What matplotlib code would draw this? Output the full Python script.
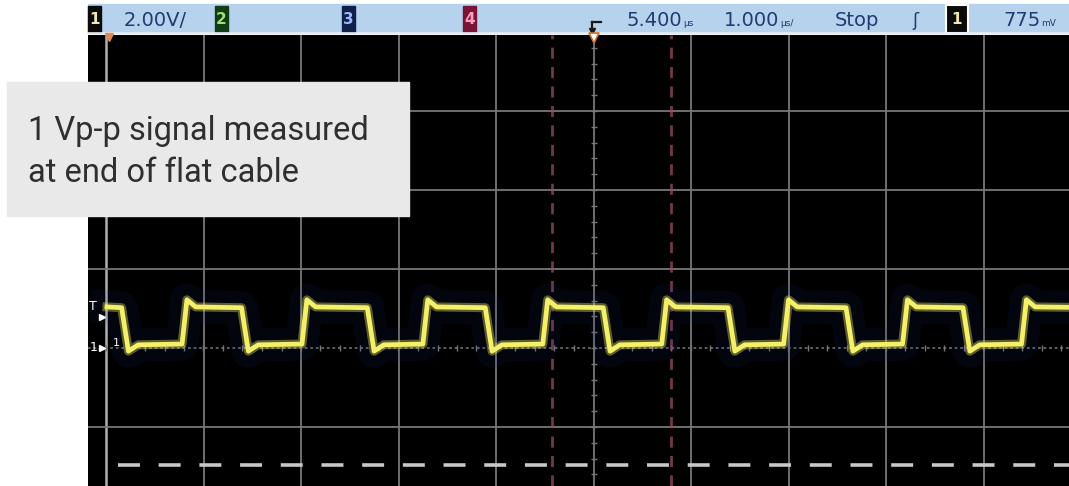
import numpy as np
import matplotlib.pyplot as plt
from matplotlib.patches import Rectangle

plt.rcParams['lines.scale_dashes'] = False

W, H = 1069, 486

# waveform (time in us, voltage in V)
rise_times = [1.18, 2.41, 3.65, 4.88, 6.10, 7.35, 8.57, 9.79]
fall_times = [0.56, 1.79, 3.08, 4.29, 5.50, 6.78, 7.99, 9.19]
high_level = 1.03
low_level = 0.09
overshoot_level = 1.22
undershoot_level = -0.08
trace_start = 0.41

cursor_times = [4.97, 6.19]
ref_level = -2.96
ref_start = 0.52
trigger_level = 0.775

time_center = 5.4
time_per_div = 1.0
volts_per_div = 2.0

# status bar texts
status_texts = ['2.00V/', '5.400', '1.000', 'Stop', '775']
status_units = ['', 'µs', 'µs/', '', 'mV']
status_x = [124, 627, 724, 835, 1003]

annotation = ['1 Vp-p signal measured', 'at end of flat cable']

# screen geometry: 97.5 px per time division, 79 px per vertical division
px_div_x = 97.5
px_div_y = 79.0
t_left = time_center - 5 * time_per_div
xlim = (t_left - 18 / px_div_x * time_per_div, t_left + (W - 106) / px_div_x * time_per_div)
ylim = (-(H - 348) / px_div_y * volts_per_div, (348 - 35) / px_div_y * volts_per_div)

fig = plt.figure(figsize=(W / 100, H / 100), dpi=100)
fig.patch.set_facecolor('white')

ax = fig.add_axes([88 / W, 0, (W - 88) / W, (H - 35) / H])
ax.set_facecolor('black')
ax.set_xlim(*xlim)
ax.set_ylim(*ylim)
for s in ax.spines.values():
    s.set_visible(False)
ax.set_xticks([])
ax.set_yticks([])

grid_c = '#777777'
for k in range(11):
    t = t_left + k * time_per_div
    ax.axvline(t, color='#b0b0b0' if k == 0 else grid_c, lw=1.3 if k else 1.8, zorder=1)
for v in [-2, 2, 4, 6]:
    ax.axhline(v * volts_per_div / 2, color=grid_c, lw=1.3, zorder=1)
ax.axhline(0, color='#666666', lw=1.3, ls=(0, (2, 2)), zorder=1)

# minor ticks on centre lines
mt = np.arange(t_left, xlim[1], time_per_div / 5)
ax.plot(mt, np.zeros_like(mt), ls='none', marker='|', ms=4, color='#777777', zorder=1)
mv = np.arange(-2 * volts_per_div, ylim[1], volts_per_div / 5)
ax.plot(np.full_like(mv, time_center), mv, ls='none', marker='_', ms=4, color='#777777', zorder=1)

# cursors
for ct in cursor_times:
    ax.axvline(ct, color='#9a4a62', lw=2, ls=(0, (8, 6)), alpha=0.75, zorder=2)

# reference dashed line
ax.plot([ref_start, xlim[1]], [ref_level, ref_level], color='#c8c8c8', lw=2.6,
        ls=(0, (15.8, 13.5)), zorder=2)

# trace
events = sorted([(t, 1) for t in rise_times] + [(t, 0) for t in fall_times])
ts, vs = [trace_start], [high_level + 0.01]
for t, up in events:
    if up:
        ts += [t, t + 0.05, t + 0.14]
        vs += [low_level + 0.01, overshoot_level, high_level + 0.01]
    else:
        ts += [t, t + 0.07, t + 0.17]
        vs += [high_level - 0.01, undershoot_level, low_level - 0.01]
ts.append(xlim[1])
vs.append(high_level)

ax.plot(ts, vs, color='#1c2a90', lw=24, alpha=0.10, solid_joinstyle='round', zorder=3)
ax.plot(ts, vs, color='#e8e45a', lw=6.5, alpha=0.40, solid_joinstyle='round', zorder=4)
ax.plot(ts, vs, color='#f4f06a', lw=3.4, solid_joinstyle='round', zorder=5)

# left markers
ax.text(0.27, 1.05, 'T', color='white', fontsize=9, ha='center', va='center', zorder=6)
ax.plot([0.355], [trigger_level], marker='>', ms=4, color='white', zorder=6)
ax.text(0.27, 0.02, '1', color='white', fontsize=9, ha='center', va='center', zorder=6)
ax.plot([0.355], [0], marker='>', ms=4, color='white', zorder=6)
ax.text(0.51, 0.12, '1', color='white', fontsize=8, ha='center', va='center', zorder=6)

# overlay in pixel coordinates
ov = fig.add_axes([0, 0, 1, 1], zorder=10)
ov.set_xlim(0, W)
ov.set_ylim(H, 0)
ov.axis('off')
ov.patch.set_alpha(0)

ov.add_patch(Rectangle((88, 4), W - 88, 29, color='#b6d2ec'))
ov.plot([88, W], [33.5, 33.5], color='#e8eef4', lw=1.2)

boxes = [(88, '#0a0a0a', '#f0e8b0', '1'), (215, '#123d12', '#9ee07a', '2'),
         (342, '#10204a', '#9cb8ff', '3'), (463, '#7a1434', '#ff9cc0', '4')]
for bx, fc, tc, lab in boxes:
    ov.add_patch(Rectangle((bx, 6), 13, 26, color=fc))
    ov.text(bx + 6.5, 19, lab, color=tc, fontsize=11, fontweight='bold', ha='center', va='center')
ov.add_patch(Rectangle((946, 5), 22, 28, facecolor='#0a0a0a', edgecolor='white', lw=1.5))
ov.text(957, 19, '1', color='#f0e8b0', fontsize=11, fontweight='bold', ha='center', va='center')

txt_c = '#233a72'
renderer = fig.canvas.get_renderer()
inv = ov.transData.inverted()
for x, s, u in zip(status_x, status_texts, status_units):
    t = ov.text(x, 26, s, color=txt_c, fontsize=14, ha='left', va='baseline')
    if u:
        bb = t.get_window_extent(renderer)
        x_end = inv.transform((bb.x1, bb.y0))[0]
        ov.text(x_end + 1, 26, u, color=txt_c, fontsize=6.5, ha='left', va='baseline')
ov.text(915, 26, 'ʃ', color=txt_c, fontsize=13, ha='center', va='baseline')

# trigger icon
ov.plot([592, 601], [22, 22], color='#1a1a1a', lw=1.6)
ov.plot([592, 592], [22, 31], color='#1a1a1a', lw=1.6)
ov.plot([592], [31], marker='v', ms=4, color='#1a1a1a')

# top markers
ov.plot([109], [37], marker='v', ms=6, color='#e08a50')
ov.plot([593.5], [38], marker='v', ms=7, mfc='white', mec='#d07030', mew=1.2)

# annotation box
ov.add_patch(Rectangle((7, 82), 402, 134, color='#e9e9e9'))
for i, line in enumerate(annotation):
    ov.text(28, 140 + i * 42, line, color='#2f2f2f', fontsize=23.5,
            family=['Roboto', 'DejaVu Sans'], ha='left', va='baseline')

fig.savefig('out.png', dpi=100, facecolor='white')
